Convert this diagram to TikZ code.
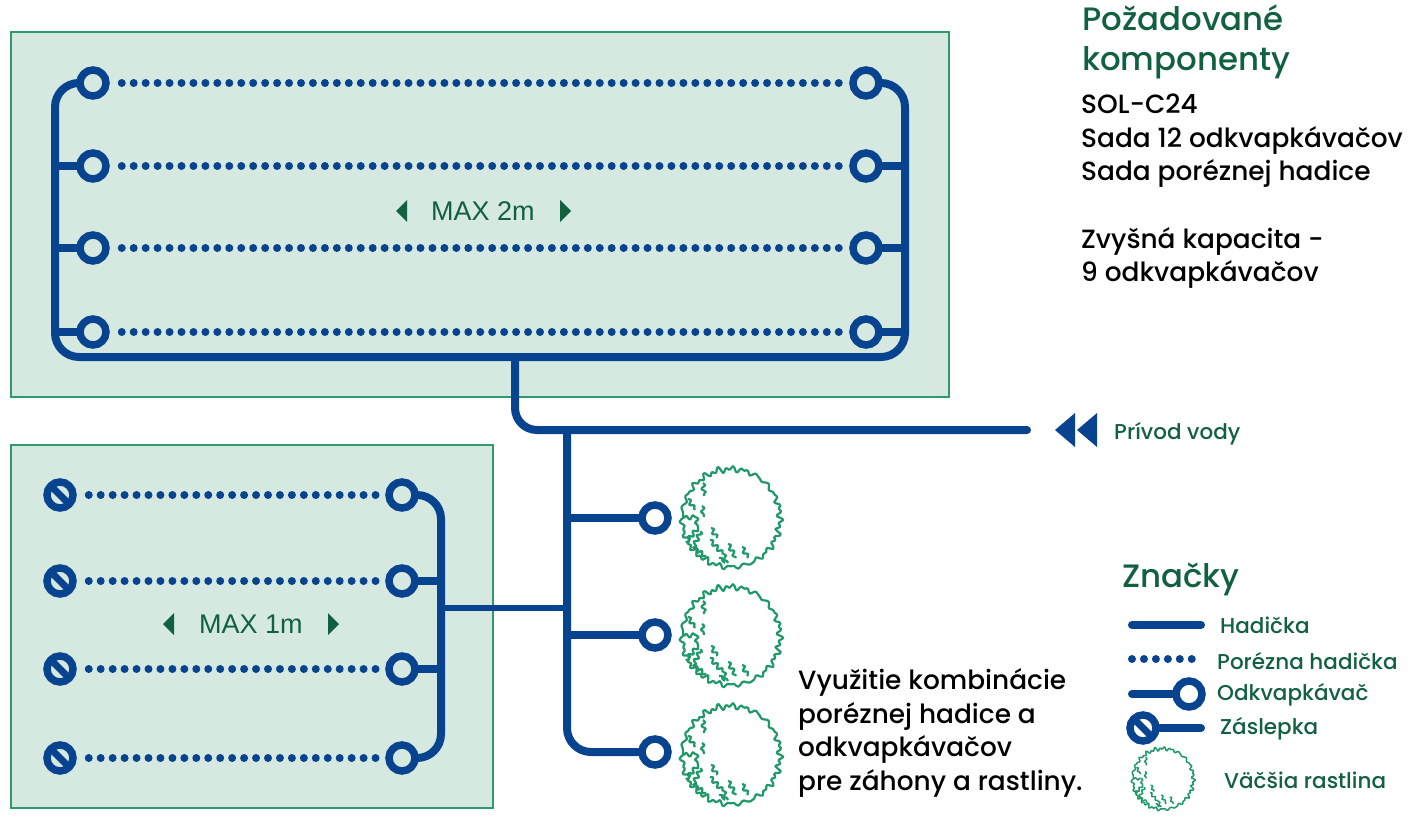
\documentclass[tikz,border=0pt]{standalone}
\usepackage{fontspec}
\setmainfont{Poppins Medium}
\newfontfamily\maxfont{Liberation Sans}
\usetikzlibrary{decorations.pathmorphing}

\definecolor{hosecol}{HTML}{07438F}
\definecolor{panelcol}{HTML}{D6E9E0}
\definecolor{edgecol}{HTML}{2E9A6E}
\definecolor{inkcol}{HTML}{11603F}
\definecolor{plantcol}{HTML}{1F9968}

\tikzset{
	panel/.style={fill=panelcol,draw=edgecol,line width=1.8pt},
	hose/.style={draw=hosecol,line width=8pt,line cap=round},
	thinhose/.style={draw=hosecol,line width=6pt,line cap=round},
	porous/.style={draw=hosecol,line width=8pt,line cap=round,dash pattern=on 0pt off 11.95pt,shorten <=12pt,shorten >=7pt},
	dripper/.style={circle,draw=hosecol,line width=7.5pt,fill=#1,minimum size=26pt,inner sep=0pt},
	dripper/.default=panelcol,
	plug/.style={dripper=#1,path picture={\draw[draw=hosecol,line width=7pt] (path picture bounding box.north west) -- (path picture bounding box.south east);}},
	plug/.default=panelcol,
	title/.style={anchor=west,align=left,inner sep=0pt,text=inkcol,font=\fontsize{32.4}{40}\selectfont},
	body/.style={anchor=west,align=left,inner sep=0pt,text=black,font=\fontsize{26.4}{33.5}\selectfont},
	legend/.style={anchor=west,inner sep=0pt,text=inkcol,font=\fontsize{21.5}{24}\selectfont},
	maxtext/.style={text=inkcol,font=\maxfont\fontsize{27}{30}\selectfont},
	leaf/.style={draw=plantcol,line width=2.2pt,line join=round},
	twig/.style={leaf,decorate,decoration={snake,segment length=7pt,amplitude=2pt}},
	plant/.pic={
		\draw[leaf] plot[smooth cycle,samples=180,domain=0:358] ({(49+1.6*sin(23*\x)+1.3*sin(41*\x+40)+1*sin(44*\x))*cos(\x)},{(49+1.6*sin(23*\x)+1.3*sin(41*\x+40)+1*sin(44*\x))*sin(\x)});
		\foreach \a/\b/\c/\d in {-43/-19/-36/-8,-29/-12/-27/-1,-28/-35/-27/-22,-47/0/-35/-1,-35/-1/-33/10,-33/10/-45/24,-30/13/-38/30,-38/30/-25/38,-20/10/-14/20,-21/22/-8/36,-8/36/-3/45,-3/26/5/40,11/29/17/40,-12/40/-6/45}{
			\draw[twig] (\a,\b) -- (\c,\d);
		}
	}
}

\begin{document}
\begin{tikzpicture}[x=1pt,y=-1pt]
	\useasboundingbox (0,0) rectangle (1417,827);

	% panels
	\path[panel] (11,32) rectangle (949,397);
	\path[panel] (11,445) rectangle (493,808);

	% upper bed
	\foreach \n/\y in {1/83,2/166,3/248,4/332} {
		\node[dripper] (upL\n) at (93,\y) {};
		\node[dripper] (upR\n) at (866,\y) {};
		\draw[porous] (upL\n) -- (upR\n);
	}
	\coordinate (upNW) at (55,83);
	\coordinate (upSW) at (55,357);
	\coordinate (upSE) at (905,357);
	\coordinate (upNE) at (905,83);
	\draw[hose,rounded corners=24pt] (upL1) -- (upNW) -- (upSW) -- (upSE) -- (upNE) -- (upR1);
	\foreach \n in {2,3,4} {
		\draw[hose] (upL\n) -- (upL\n -| upNW);
		\draw[hose] (upR\n) -- (upR\n -| upNE);
	}
	\node[maxtext] (maxup) at (483,211) {MAX 2m};
	\fill[inkcol] (396,211) -- (407,200) -- (407,222) -- cycle;
	\fill[inkcol] (571,211) -- (560,200) -- (560,222) -- cycle;

	% lower bed
	\foreach \n/\y in {1/495,2/581,3/669,4/758} {
		\node[plug] (lowL\n) at (60,\y) {};
		\node[dripper] (lowR\n) at (402,\y) {};
		\draw[porous] (lowL\n) -- (lowR\n);
	}
	\coordinate (lowNE) at (441,495);
	\coordinate (lowSE) at (441,758);
	\coordinate (lowT) at (441,608);
	\draw[hose,rounded corners=24pt] (lowR1) -- (lowNE) -- (lowSE) -- (lowR4);
	\foreach \n in {2,3} {
		\draw[hose] (lowR\n) -- (lowR\n -| lowNE);
	}
	\node[maxtext] (maxlow) at (251,624) {MAX 1m};
	\fill[inkcol] (163,624) -- (174,613) -- (174,635) -- cycle;
	\fill[inkcol] (339,624) -- (328,613) -- (328,635) -- cycle;

	% supply
	\coordinate (feedTop) at (515,357);
	\coordinate (feedBend) at (515,430);
	\coordinate (feedEnd) at (1027,430);
	\coordinate (trunkTop) at (567,430);
	\coordinate (trunkLow) at (567,752);
	\coordinate (trunkT) at (567,608);
	\draw[hose,rounded corners=22pt] (feedTop) -- (feedBend) -- (feedEnd);
	\node[dripper=white] (plantDrip1) at (655,518) {};
	\node[dripper=white] (plantDrip2) at (655,635) {};
	\node[dripper=white] (plantDrip3) at (655,752) {};
	\draw[hose,rounded corners=24pt] (trunkTop) -- (trunkLow) -- (plantDrip3);
	\draw[hose] (plantDrip1) -- (plantDrip1 -| trunkTop);
	\draw[hose] (plantDrip2) -- (plantDrip2 -| trunkTop);
	\draw[thinhose] (lowT) -- (trunkT);
	\fill[hosecol] (1055,430) -- (1075,413) -- (1075,447) -- cycle;
	\fill[hosecol] (1077,430) -- (1097,413) -- (1097,447) -- cycle;
	\node[legend] (supply) at (1114,434) {Prívod vody};

	% plants
	\pic (plantA) at (731,518) {plant};
	\pic (plantB) at (731,636) {plant};
	\pic (plantC) at (731,755) {plant};

	% texts
	\node[title] (needs) at (1082,42) {Požadované\\komponenty};
	\node[body] (parts) at (1081,141) {SOL-C24\\Sada 12 odkvapkávačov\\Sada poréznej hadice};
	\node[body] (spare) at (1081,258) {Zvyšná kapacita -\\9 odkvapkávačov};
	\node[body] (usage) at (798,733) {Využitie kombinácie\\poréznej hadice a\\odkvapkávačov\\pre záhony a rastliny.};

	% legend
	\node[title] (marks) at (1122,579) {Značky};
	\coordinate (keyA) at (1132,625);
	\coordinate (keyB) at (1201,625);
	\draw[hose] (keyA) -- (keyB);
	\node[legend] (keyHose) at (1220,625) {Hadička};
	\coordinate (keyC) at (1132,659);
	\coordinate (keyD) at (1193,659);
	\draw[porous,shorten <=0pt,shorten >=0pt] (keyC) -- (keyD);
	\node[legend] (keyPorous) at (1217,661) {Porézna hadička};
	\node[dripper=white] (keyDrip) at (1189,694) {};
	\coordinate (keyE) at (1132,694);
	\draw[hose] (keyE) -- (keyDrip);
	\node[legend] (keyDripText) at (1217,695) {Odkvapkávač};
	\node[plug=white] (keyPlug) at (1143,728) {};
	\coordinate (keyF) at (1201,728);
	\draw[hose] (keyPlug) -- (keyF);
	\node[legend] (keyPlugText) at (1220,729) {Záslepka};
	\pic[scale=.62,leaf/.append style={line width=1.5pt},twig/.append style={decoration={snake,segment length=5pt,amplitude=1.3pt}}] (keyPlant) at (1163,779) {plant};
	\node[legend] (keyPlantText) at (1224,780) {Väčšia rastlina};
\end{tikzpicture}
\end{document}
